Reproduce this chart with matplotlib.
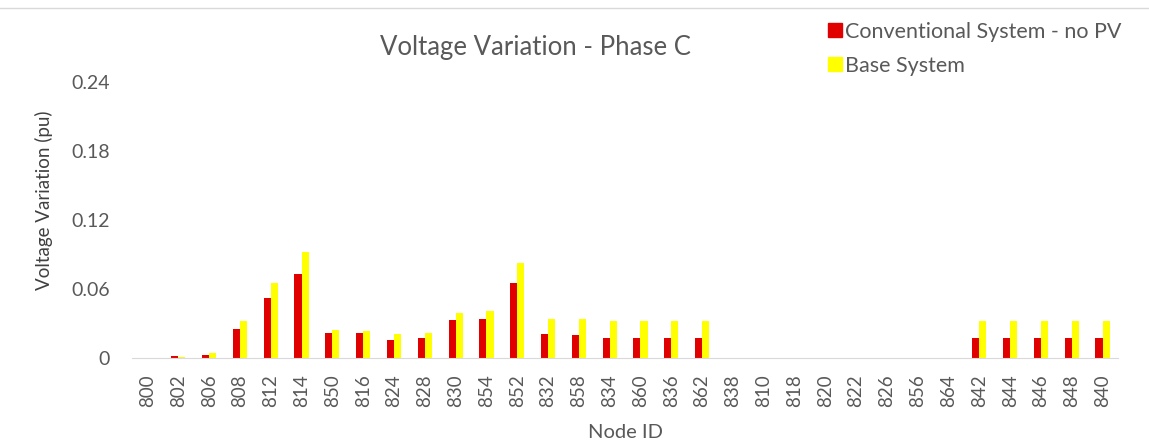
import matplotlib
matplotlib.use('Agg')
import matplotlib.pyplot as plt
import numpy as np
from matplotlib.lines import Line2D

plt.rcParams['font.family'] = ['Lato', 'DejaVu Sans']

nodes = ['800', '802', '806', '808', '812', '814', '850', '816', '824', '828',
         '830', '854', '852', '832', '858', '834', '860', '836', '862', '838',
         '810', '818', '820', '822', '826', '856', '864', '842', '844', '846',
         '848', '840']
conventional = [0.0, 0.002, 0.003, 0.025, 0.052, 0.073, 0.022, 0.022, 0.016, 0.017,
                0.033, 0.034, 0.065, 0.021, 0.020, 0.017, 0.017, 0.017, 0.017, 0.0,
                0.0, 0.0, 0.0, 0.0, 0.0, 0.0, 0.0, 0.017, 0.017, 0.017,
                0.017, 0.017]
base = [0.0, 0.001, 0.004, 0.032, 0.065, 0.092, 0.024, 0.0235, 0.021, 0.022,
        0.039, 0.041, 0.083, 0.034, 0.034, 0.0325, 0.0325, 0.0325, 0.0325, 0.0,
        0.0, 0.0, 0.0, 0.0, 0.0, 0.0, 0.0, 0.0325, 0.0325, 0.0325,
        0.0325, 0.0325]

grey = '#595959'
fig = plt.figure(figsize=(11.49, 4.47), dpi=100)
ax = fig.add_axes([0.115, 0.199, 0.858, 0.618])

x = np.arange(len(nodes))
w = 0.23
ax.bar(x - w / 2, conventional, w, color='#e00000', label='Conventional System - no PV')
ax.bar(x + w / 2, base, w, color='#ffff00', label='Base System')

ax.set_xlim(-0.5, len(nodes) - 0.5)
ax.set_ylim(0, 0.24)
ax.set_yticks([0, 0.06, 0.12, 0.18, 0.24])
ax.set_yticklabels(['0', '0.06', '0.12', '0.18', '0.24'])
ax.set_xticks(x)
ax.set_xticklabels(nodes, rotation=90)
ax.tick_params(axis='both', length=0, colors=grey)
ax.tick_params(axis='y', pad=16, labelsize=14)
ax.tick_params(axis='x', pad=12, labelsize=13.5)

for s in ['top', 'right', 'left']:
    ax.spines[s].set_visible(False)
ax.spines['bottom'].set_color('#d9d9d9')

ax.set_xlabel('Node ID', color=grey, fontsize=14.5, labelpad=12)
ax.set_ylabel('Voltage Variation (pu)', color='#404040', fontsize=13.5)
ax.yaxis.set_label_coords(-0.080, 0.572)
fig.text(0.466, 0.893, 'Voltage Variation - Phase C', ha='center', va='center',
         fontsize=18.5, color=grey)

handles = [Line2D([], [], marker='s', linestyle='none', markersize=10, color='#e00000'),
           Line2D([], [], marker='s', linestyle='none', markersize=10, color='#ffff00')]
fig.legend(handles, ['Conventional System - no PV', 'Base System'],
           loc='upper left', bbox_to_anchor=(0.702, 0.995), frameon=False,
           fontsize=15.5, labelcolor=grey, handletextpad=0.1, labelspacing=0.65,
           handlelength=0.8)

fig.add_artist(Line2D([0, 1], [0.983, 0.983], color='#d9d9d9', linewidth=1))

fig.savefig('out.png', dpi=100, facecolor='white')
